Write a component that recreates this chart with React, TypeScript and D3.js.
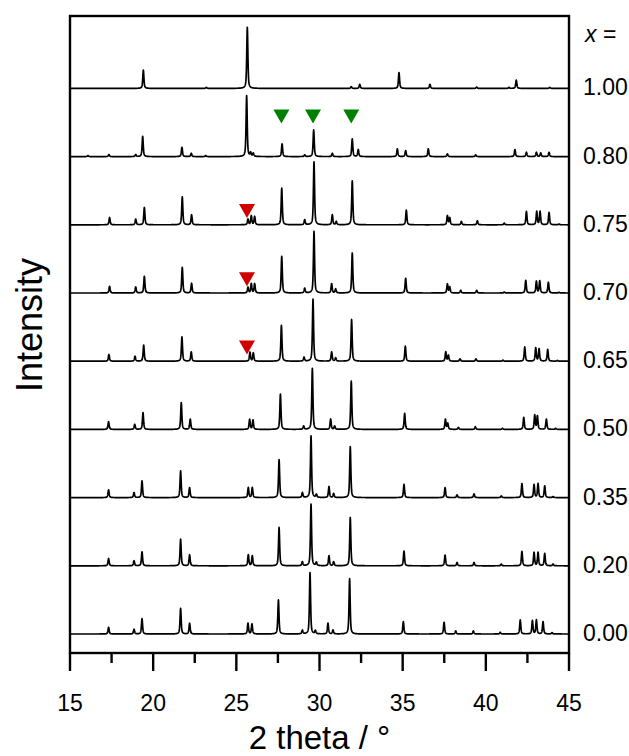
import React from 'react';
import * as d3 from 'd3';

// Composition labels, bottom to top
const compositions = ['0.00', '0.20', '0.35', '0.50', '0.65', '0.70', '0.75', '0.80', '1.00'];

// Peak lists: [2theta (deg), intensity (a.u.)]
const peaks000: [number, number][] = [
  [17.32, 6.7], [18.85, 4.7], [19.33, 15.3], [21.65, 25.7], [22.19, 10.7], [25.70, 10.7], [25.94, 10],
  [27.53, 34], [28.97, 3.7], [29.43, 61.3], [29.75, 3.3], [30.51, 10.7], [30.81, 4], [31.81, 55.3],
  [35.04, 12.3], [37.49, 11.7], [38.19, 3], [39.25, 3], [40.87, 1.7], [42.07, 14], [42.80, 13.3],
  [43.04, 14], [43.44, 12.3], [43.98, 1.3],
];
const peaks020: [number, number][] = [
  [17.32, 7.3], [18.85, 5], [19.33, 14], [21.65, 26.7], [22.19, 11], [25.72, 11], [25.96, 10],
  [27.57, 38.3], [28.97, 4], [29.49, 61.7], [29.81, 3.3], [30.57, 10], [30.85, 4], [31.85, 48.3],
  [35.08, 14.7], [37.55, 10.7], [38.27, 3.3], [39.29, 3.3], [40.93, 1.7], [42.17, 14.3], [42.90, 13.3],
  [43.14, 13.3], [43.54, 12.3], [44.04, 1.7],
];
const peaks035: [number, number][] = [
  [17.32, 7.7], [18.85, 5], [19.33, 16.7], [21.65, 26.7], [22.19, 10], [25.72, 10], [25.96, 10],
  [27.57, 38], [28.97, 5], [29.49, 61.7], [29.81, 3], [30.57, 11], [30.85, 4], [31.85, 51],
  [35.08, 13.3], [37.55, 10], [38.27, 2.7], [39.29, 3.7], [40.93, 1.7], [42.17, 14], [42.90, 13],
  [43.14, 14], [43.54, 11.7], [44.04, 1],
];
const peaks050: [number, number][] = [
  [17.32, 7.7], [18.89, 5], [19.39, 16.7], [21.69, 26.7], [22.23, 10.3], [25.80, 10], [26.00, 9.3],
  [27.65, 35.3], [29.05, 3.3], [29.57, 61], [30.67, 10.3], [30.91, 3.3], [31.91, 48.3],
  [35.12, 16], [37.57, 10], [37.71, 6], [38.35, 2], [39.37, 2.7], [41.0, 1], [42.28, 12], [42.94, 14.3],
  [43.10, 13.3], [43.64, 10.3], [44.20, 1],
];
const peaks065: [number, number][] = [
  [17.34, 6.7], [18.91, 5], [19.43, 16], [21.73, 24.3], [22.29, 9.3], [25.82, 9], [26.02, 8.3],
  [27.71, 35.7], [29.07, 4], [29.61, 62], [30.73, 9.3], [30.97, 3.3], [31.93, 41.7],
  [35.16, 15], [37.59, 9.3], [37.75, 6], [38.45, 2.3], [39.41, 2.3], [41.03, 1], [42.34, 14.3], [43.0, 13.3],
  [43.20, 12.3], [43.72, 11.7], [44.30, 0.7],
];
const peaks070: [number, number][] = [
  [17.38, 6.7], [18.95, 6], [19.47, 16.7], [21.75, 25.7], [22.31, 9.7], [25.70, 5.7], [25.90, 9.3], [26.10, 9.3],
  [27.73, 36.7], [29.11, 4.7], [29.67, 61.7], [30.73, 9.3], [30.97, 4], [31.97, 40],
  [35.18, 14.7], [37.69, 9], [37.83, 6], [38.49, 2.7], [39.45, 2.7], [41.11, 1], [42.40, 12.7], [43.04, 11.7],
  [43.24, 12], [43.76, 10.7], [44.40, 0.7],
];
const peaks075: [number, number][] = [
  [17.38, 7.3], [18.95, 5.7], [19.47, 17.3], [21.75, 28], [22.31, 10], [25.70, 5.7], [25.90, 9], [26.10, 8.3],
  [27.73, 36.7], [29.11, 5], [29.67, 63], [30.77, 10], [31.01, 3.3], [31.97, 44],
  [35.22, 14.7], [37.69, 9], [37.83, 7], [38.53, 3.3], [39.49, 4], [41.11, 1.7], [42.44, 13.3], [43.06, 13.3],
  [43.26, 13.3], [43.80, 12.3], [44.40, 0.7],
];
const peaks080: [number, number][] = [
  [16.08, 1], [17.34, 2], [18.95, 2], [19.37, 20.3], [21.73, 9.3], [22.29, 3.3], [23.16, 1],
  [25.62, 61], [25.86, 3.7], [26.02, 3.3], [27.75, 12.7], [29.11, 1.7], [29.65, 26.7],
  [30.77, 3.3], [31.97, 17.7], [32.33, 7], [34.68, 7.7], [35.18, 6], [36.54, 7.7], [37.69, 2.7],
  [39.39, 1.7], [41.75, 7], [42.44, 4.3], [43.04, 4.3], [43.30, 3.7], [43.80, 4.3],
];
const peaks100: [number, number][] = [
  [19.41, 18.3], [23.20, 1], [25.66, 61], [31.91, 1.7], [32.42, 4], [34.78, 15.7], [36.64, 4],
  [39.45, 1.3], [41.39, 1], [41.83, 8.3], [43.84, 1],
];

const patterns = [peaks000, peaks020, peaks035, peaks050, peaks065, peaks070, peaks075, peaks080, peaks100];
const offsetStep = 68.2;

// Marker annotations: [2theta, pattern index, level above baseline (a.u.)]
const greenMarkers: [number, number, number][] = [[27.71, 7, 47], [29.61, 7, 47], [31.91, 7, 47]];
const redMarkers: [number, number, number][] = [[25.64, 6, 20.7], [25.64, 5, 20.7], [25.64, 4, 20.7]];

const xTicks = [15, 20, 25, 30, 35, 40, 45];
const xMinorTicks = [17.5, 22.5, 27.5, 32.5, 37.5, 42.5];

const FONT = "'Liberation Sans', Arial, Helvetica, sans-serif";

export default function App() {
  const W = 629, H = 756;
  const left = 70, right = 569, top = 16, bottom = 653;
  const x = d3.scaleLinear().domain([15, 45]).range([left, right]);
  const y = d3.scaleLinear().domain([-19, 618]).range([bottom, top]);

  const grid = d3.range(15, 45.0001, 0.01);
  const fwhm = 0.08, eta = 0.6;
  const profile = (pk: [number, number][], t: number) => {
    let s = 0;
    for (const [c, h] of pk) {
      const u = (t - c) / (fwhm / 2);
      const u2 = u * u;
      if (u2 > 40000) continue;
      s += h * (eta / (1 + u2) + (1 - eta) * Math.exp(-Math.LN2 * u2));
    }
    return s;
  };
  const line = d3.line<[number, number]>().x(d => x(d[0])).y(d => y(d[1]));

  const paths = patterns.map((pk, i) => {
    const pts: [number, number][] = grid.map(t => [t, i * offsetStep + profile(pk, t)]);
    return line(pts) || '';
  });

  const tri = (cx: number, ty: number, color: string, key: string) => {
    const w = 16, h = 14;
    return <path key={key} d={`M${cx - w / 2},${ty}L${cx + w / 2},${ty}L${cx},${ty + h}Z`} fill={color} />;
  };

  return (
    <svg width={W} height={H} style={{ position: 'absolute', left: 0, top: 0, background: '#fff' }} fontFamily={FONT}>
      <rect x={0} y={0} width={W} height={H} fill="#fff" />
      {paths.map((d, i) => (
        <path key={i} d={d} fill="none" stroke="#000" strokeWidth={1.7} strokeLinejoin="round" />
      ))}
      {greenMarkers.map(([t, idx, lv], k) => tri(x(t), y(idx * offsetStep + lv), '#008000', 'g' + k))}
      {redMarkers.map(([t, idx, lv], k) => tri(x(t), y(idx * offsetStep + lv), '#d00000', 'r' + k))}
      <rect x={left} y={top} width={right - left} height={bottom - top} fill="none" stroke="#000" strokeWidth={2.4} />
      {xTicks.map(t => (
        <g key={'t' + t}>
          <line x1={x(t)} x2={x(t)} y1={bottom} y2={bottom + 18} stroke="#000" strokeWidth={2.4} />
          <text x={x(t)} y={711} fontSize={23} textAnchor="middle" fill="#000">{t}</text>
        </g>
      ))}
      {xMinorTicks.map(t => (
        <line key={'m' + t} x1={x(t)} x2={x(t)} y1={bottom} y2={bottom + 10} stroke="#000" strokeWidth={2.4} />
      ))}
      <text x={(left + right) / 2} y={749} fontSize={33} textAnchor="middle" fill="#000">2 theta / °</text>
      <text transform={`translate(42,325) rotate(-90)`} fontSize={36} textAnchor="middle" fill="#000">Intensity</text>
      {compositions.map((c, i) => (
        <text key={c} x={583} y={y(i * offsetStep) + 7} fontSize={23} fill="#000">{c}</text>
      ))}
      <text x={585} y={42} fontSize={23} fill="#000"><tspan fontStyle="italic">x</tspan> =</text>
    </svg>
  );
}
